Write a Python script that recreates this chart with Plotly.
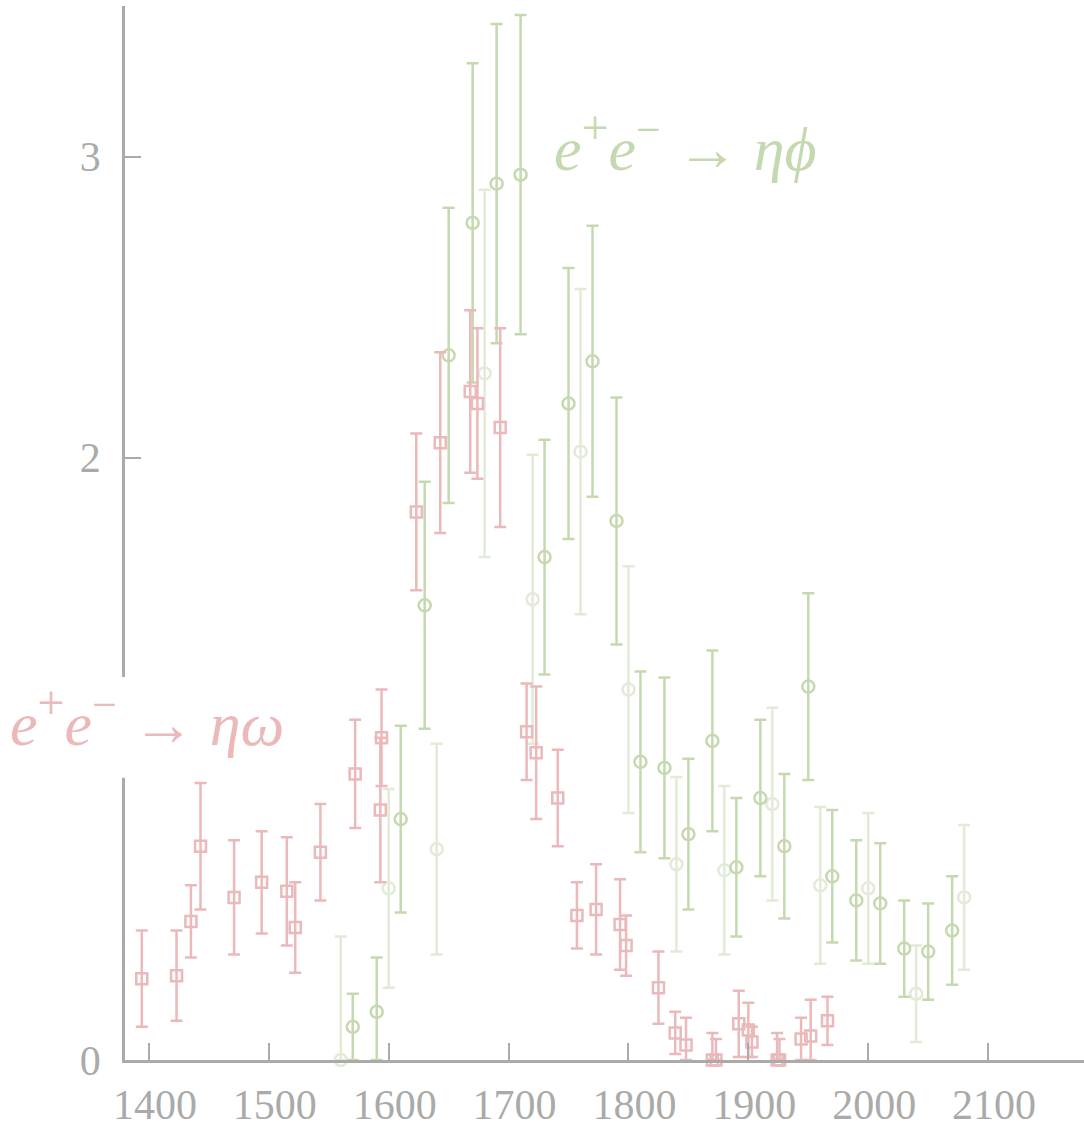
import plotly.graph_objects as go

# e+e- -> eta omega cross section (open squares)
eta_omega_x = [1394, 1423, 1435, 1443, 1471, 1494, 1515, 1522, 1543, 1572, 1593, 1594,
               1623, 1643, 1668, 1674, 1693, 1715, 1723, 1741, 1757, 1773, 1793, 1798,
               1825, 1839, 1848, 1870, 1873, 1892, 1900, 1903, 1924, 1926, 1944, 1952, 1966]
eta_omega_y = [0.27, 0.28, 0.46, 0.71, 0.54, 0.59, 0.56, 0.44, 0.69, 0.95, 0.83, 1.07,
               1.82, 2.05, 2.22, 2.18, 2.10, 1.09, 1.02, 0.87, 0.48, 0.50, 0.45, 0.38,
               0.24, 0.09, 0.05, 0.00, 0.00, 0.12, 0.10, 0.06, 0.00, 0.00, 0.07, 0.08, 0.13]
eta_omega_err = [0.16, 0.15, 0.12, 0.21, 0.19, 0.17, 0.18, 0.15, 0.16, 0.18, 0.24, 0.16,
                 0.26, 0.30, 0.27, 0.25, 0.33, 0.16, 0.22, 0.16, 0.11, 0.15, 0.15, 0.10,
                 0.12, 0.07, 0.09, 0.09, 0.07, 0.11, 0.09, 0.05, 0.09, 0.07, 0.07, 0.12, 0.08]

# e+e- -> eta phi, main scan (open circles)
eta_phi_x = [1570, 1590, 1610, 1630, 1650, 1670, 1690, 1710, 1730, 1750, 1770, 1790, 1810,
             1830, 1850, 1870, 1890, 1910, 1930, 1950, 1970, 1990, 2010, 2030, 2050, 2070]
eta_phi_y = [0.11, 0.16, 0.80, 1.51, 2.34, 2.78, 2.91, 2.94, 1.67, 2.18, 2.32, 1.79, 0.99,
             0.97, 0.75, 1.06, 0.64, 0.87, 0.71, 1.24, 0.61, 0.53, 0.52, 0.37, 0.36, 0.43]
eta_phi_err = [0.11, 0.18, 0.31, 0.41, 0.49, 0.53, 0.53, 0.53, 0.39, 0.45, 0.45, 0.41, 0.30,
               0.30, 0.25, 0.30, 0.23, 0.26, 0.24, 0.31, 0.22, 0.20, 0.20, 0.16, 0.16, 0.18]

# e+e- -> eta phi, second data set (faint circles)
eta_phi2_x = [1560, 1600, 1640, 1680, 1720, 1760, 1800, 1840, 1880, 1920, 1960, 2000, 2040, 2080]
eta_phi2_y = [0.00, 0.57, 0.70, 2.28, 1.53, 2.02, 1.23, 0.65, 0.63, 0.85, 0.58, 0.57, 0.22, 0.54]
eta_phi2_err = [0.41, 0.33, 0.35, 0.61, 0.48, 0.54, 0.41, 0.29, 0.28, 0.32, 0.26, 0.25, 0.16, 0.24]

x_ticks = [1400, 1500, 1600, 1700, 1800, 1900, 2000, 2100]
y_ticks = [0, 2, 3]

RED = "#ebb9b9"
GREEN = "#c5d9b0"
GREEN_LIGHT = "#e2ebd8"
AXIS = "#aaaaaa"


def series(x, y, err, color, symbol, size):
    # lower error bars stop at zero cross section
    minus = [min(e, v) for e, v in zip(err, y)]
    return go.Scatter(
        x=x, y=y, mode="markers", cliponaxis=False,
        marker=dict(symbol=symbol, size=size, color=color, line=dict(color=color, width=2.5)),
        error_y=dict(type="data", array=err, arrayminus=minus, symmetric=False,
                     color=color, thickness=2.5, width=6),
        showlegend=False,
    )


def reaction(final_state):
    plus = '<sup><span style="font-size:48px">+</span></sup>'
    minus = '<sup>\u2212</sup>'
    return ("<i>e</i>" + plus + "<i>e</i>" + minus
            + " \u2192 <i>" + final_state + "</i>")


fig = go.Figure()
fig.add_trace(series(eta_phi2_x, eta_phi2_y, eta_phi2_err, GREEN_LIGHT, "circle-open", 12))
fig.add_trace(series(eta_phi_x, eta_phi_y, eta_phi_err, GREEN, "circle-open", 12))
fig.add_trace(series(eta_omega_x, eta_omega_y, eta_omega_err, RED, "square-open", 11))

tick_font = dict(family="Liberation Serif", size=42, color=AXIS)

fig.update_xaxes(
    range=[1380, 2180], tickvals=x_ticks,
    showline=True, linecolor=AXIS, linewidth=2.7, ticks="inside", ticklen=17,
    tickwidth=2.2, tickcolor=AXIS, tickfont=tick_font, showgrid=False, zeroline=False,
    ticklabelstandoff=6, ticklabelshift=6,
)
fig.update_yaxes(
    range=[0, 3.5], tickvals=y_ticks,
    showline=True, linecolor=AXIS, linewidth=2.7, ticks="inside", ticklen=16,
    tickwidth=2.2, tickcolor=AXIS, tickfont=tick_font, showgrid=False, zeroline=False,
    ticklabelstandoff=13,
)

# break in the y axis behind the eta-omega label
fig.add_shape(
    type="rect", xref="paper", yref="y", x0=-0.012, x1=0.012, y0=0.937, y1=1.272,
    fillcolor="white", line=dict(width=0), layer="above",
)

fig.add_annotation(
    x=1736, y=3.047, xref="x", yref="y", xanchor="left", yanchor="middle",
    text=reaction("\u03b7\u03d5"),
    showarrow=False, font=dict(family="Liberation Serif", size=62, color=GREEN),
)
fig.add_annotation(
    x=0.0, y=1.14, xref="paper", yref="y", xanchor="left", yanchor="middle",
    xshift=-117,
    text=reaction("\u03b7\u03c9"),
    showarrow=False, font=dict(family="Liberation Serif", size=62, color=RED),
)

fig.update_layout(
    width=1084, height=1128,
    margin=dict(l=125, r=0, t=6, b=68),
    paper_bgcolor="white", plot_bgcolor="white",
)

fig.write_html("out.html")
